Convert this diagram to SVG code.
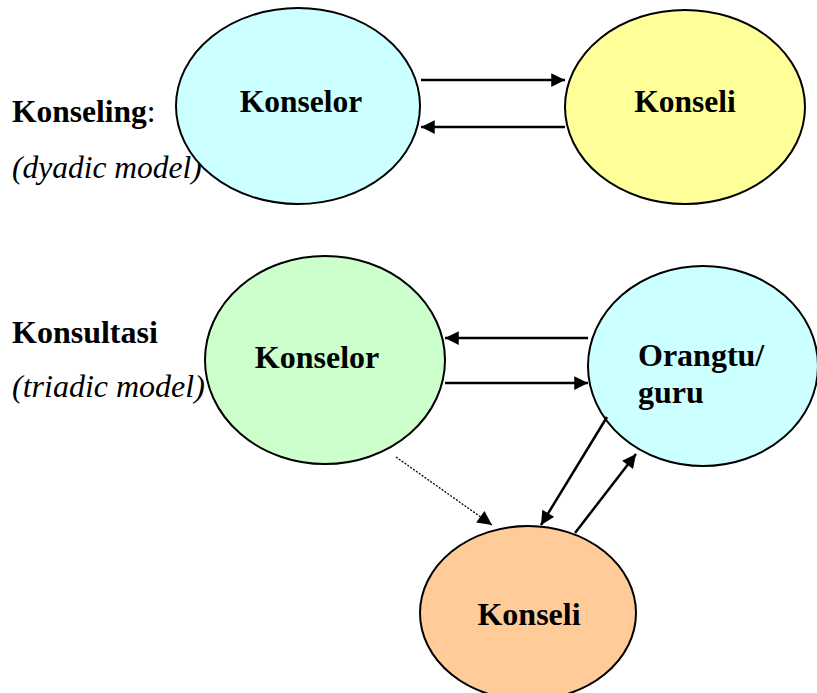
<svg xmlns="http://www.w3.org/2000/svg" width="817" height="693" viewBox="0 0 817 693">
<style>
.n{stroke:#000;stroke-width:2}
.t{font-family:"Liberation Serif","Times New Roman",serif;font-size:31.5px;fill:#000}
.s{font-size:32px}
.b{font-weight:bold}
.i{font-style:italic}
.c{stroke:#000;stroke-width:2.5;fill:none}
.d{stroke:#000;stroke-width:1.3;fill:none;stroke-dasharray:2 1.5}
</style>
<defs>
<marker id="ah" viewBox="0 0 10 10" refX="10" refY="5" markerWidth="6.5" markerHeight="5.5" markerUnits="strokeWidth" orient="auto">
<path d="M0,0 L10,5 L0,10 Z" fill="#000"/>
</marker>
<marker id="ahd" viewBox="0 0 10 10" refX="10" refY="5" markerWidth="13" markerHeight="11" markerUnits="strokeWidth" orient="auto">
<path d="M0,0 L10,5 L0,10 Z" fill="#000"/>
</marker>
</defs>
<g id="labels">
<text class="t" x="12" y="122"><tspan class="b">Konseling</tspan>:</text>
<text class="t i" x="12" y="178">(dyadic model)</text>
<text class="t s b" x="12" y="343">Konsultasi</text>
<text class="t s i" x="12" y="397">(triadic model)</text>
</g>
<g id="konselor1">
<ellipse class="n" cx="298" cy="106" rx="122" ry="98" fill="#CCFFFF"/>
<text class="t b" x="301" y="112" text-anchor="middle">Konselor</text>
</g>
<g id="konseli1">
<ellipse class="n" cx="685" cy="107" rx="120" ry="97" fill="#FFFF99"/>
<text class="t b" x="685" y="112" text-anchor="middle">Konseli</text>
</g>
<g id="konselor2">
<ellipse class="n" cx="325" cy="360" rx="120" ry="104" fill="#CCFFCC"/>
<text class="t s b" x="317" y="368" text-anchor="middle">Konselor</text>
</g>
<g id="orangtu">
<ellipse class="n" cx="703" cy="366" rx="115" ry="100" fill="#CCFFFF"/>
<text class="t s b" x="638" y="366">Orangtu/</text>
<text class="t s b" x="638" y="403">guru</text>
</g>
<g id="konseli2">
<ellipse class="n" cx="528" cy="613" rx="108" ry="87" fill="#FFCC99"/>
<text class="t s b" x="529" y="625" text-anchor="middle">Konseli</text>
</g>
<g id="connectors">
<line class="c" x1="421" y1="80" x2="565" y2="80" marker-end="url(#ah)"/>
<line class="c" x1="565" y1="127" x2="421" y2="127" marker-end="url(#ah)"/>
<line class="c" x1="588" y1="338" x2="445" y2="338" marker-end="url(#ah)"/>
<line class="c" x1="445" y1="383" x2="588" y2="383" marker-end="url(#ah)"/>
<line class="d" x1="396" y1="457" x2="492" y2="525" marker-end="url(#ahd)"/>
<line class="c" x1="607" y1="417" x2="541" y2="525" marker-end="url(#ah)"/>
<line class="c" x1="575" y1="533" x2="636" y2="454" marker-end="url(#ah)"/>
</g>
</svg>
